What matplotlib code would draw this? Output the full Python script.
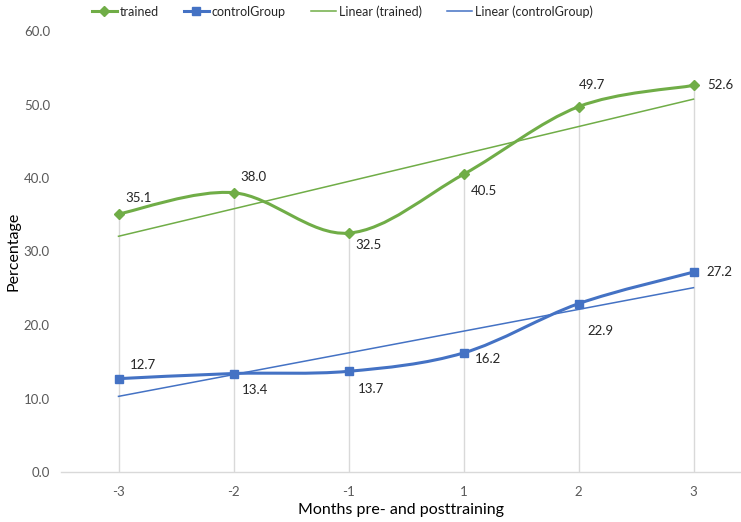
import numpy as np
import matplotlib
matplotlib.use("Agg")
import matplotlib.pyplot as plt
from matplotlib.path import Path
from matplotlib.patches import PathPatch
from matplotlib.lines import Line2D

#------------- DATA -------------#
months = ["-3", "-2", "-1", "1", "2", "3"]
trained = [35.1, 38.0, 32.5, 40.5, 49.7, 52.6]
control = [12.7, 13.4, 13.7, 16.2, 22.9, 27.2]

# label offsets in pixels (dx, dy), dy positive = up
trained_offsets = [(20, 16), (20, 16), (20, -12), (20, -17), (13, 22), (27, 0)]
control_offsets = [(24, 14), (22, -16), (22, -18), (24, -6), (22, -27), (26, 0)]

GREEN = "#70AD47"
BLUE = "#4472C4"
GREY = "#595959"

plt.rcParams["font.family"] = ["Lato", "DejaVu Sans"]


#------------- FUNCTIONS -------------#
def smooth_path(xs, ys):
    """Excel-like smoothed line as a bezier path."""
    pts = np.column_stack([xs, ys]).astype(float)
    n = len(pts)
    verts = [pts[0]]
    codes = [Path.MOVETO]
    for i in range(n - 1):
        p0 = pts[i - 1] if i > 0 else pts[i]
        p1 = pts[i]
        p2 = pts[i + 1]
        p3 = pts[i + 2] if i + 2 < n else pts[i + 1]
        c1 = p1 + (p2 - p0) / 6.0
        c2 = p2 - (p3 - p1) / 6.0
        verts += [c1, c2, p2]
        codes += [Path.CURVE4] * 3
    return Path(verts, codes)


#------------- PLOT -------------#
fig = plt.figure(figsize=(7.41, 5.22), dpi=100)
ax = fig.add_axes([61 / 741, 50 / 522, 680 / 741, 441 / 522])

x = np.arange(len(months))

# drop lines
tops = np.maximum(trained, control)
ax.vlines(x, 0, tops, color="#D9D9D9", lw=1, zorder=1)

# linear trendlines
for vals, col in [(trained, GREEN), (control, BLUE)]:
    k, b = np.polyfit(x, vals, 1)
    ax.plot(x, k * x + b, color=col, lw=1.1, zorder=2)

# smoothed series
for vals, col, mk, ms in [(trained, GREEN, "D", 5), (control, BLUE, "s", 6)]:
    ax.add_patch(PathPatch(smooth_path(x, vals), fill=False, edgecolor=col,
                           lw=2.2, capstyle="round", zorder=3))
    ax.plot(x, vals, ls="none", marker=mk, ms=ms, color=col, zorder=4)

# data labels
for vals, offs in [(trained, trained_offsets), (control, control_offsets)]:
    for xi, v, (dx, dy) in zip(x, vals, offs):
        ax.annotate(f"{v:.1f}", (xi, v), xytext=(dx, dy), textcoords="offset pixels",
                    ha="center", va="center", fontsize=9.5, color="#262626")

ax.set_xlim(-0.5, -0.5 + 680 / 115)
ax.set_ylim(0, 60)
ax.set_xticks(x)
ax.set_xticklabels(months)
ax.set_yticks(np.arange(0, 61, 10))
ax.set_yticklabels([f"{v:.1f}" for v in np.arange(0, 61, 10)])
ax.tick_params(axis="both", length=0, labelsize=9.5, colors=GREY)
ax.tick_params(axis="x", pad=10)
ax.tick_params(axis="y", pad=8)

for s in ["top", "right", "left"]:
    ax.spines[s].set_visible(False)
ax.spines["bottom"].set_color("#D9D9D9")
ax.spines["bottom"].set_linewidth(1)

ax.set_xlabel("Months pre- and posttraining", fontsize=11.5, color="#000000", labelpad=4)
ax.set_ylabel("Percentage", fontsize=11.5, color="#000000")
ax.yaxis.set_label_coords(-40 / 680, 0.5)

handles = [
    Line2D([], [], color=GREEN, lw=2.2, marker="D", ms=5),
    Line2D([], [], color=BLUE, lw=2.2, marker="s", ms=6),
    Line2D([], [], color=GREEN, lw=1.1),
    Line2D([], [], color=BLUE, lw=1.1),
]
labels = ["trained", "controlGroup", "Linear (trained)", "Linear (controlGroup)"]
fig.legend(handles, labels, loc="upper center", bbox_to_anchor=(0.462, 1.012), ncol=4,
           frameon=False, fontsize=9, handlelength=2.0, columnspacing=2.0,
           handletextpad=0.25, labelcolor="#262626")

fig.savefig("out.png", dpi=100)
